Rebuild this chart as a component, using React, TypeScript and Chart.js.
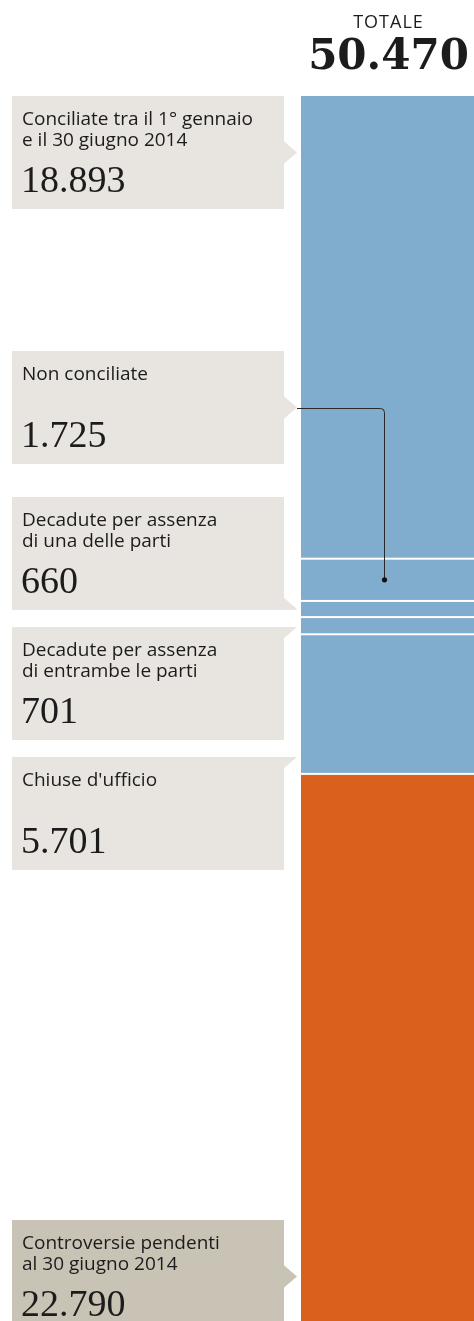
import React, { useEffect, useRef } from 'react';
import { Chart, registerables } from 'chart.js';

Chart.register(...registerables);

// ---------- data ----------
const totalTitle = 'TOTALE';
const categoryLines: string[][] = [
  ['Conciliate tra il 1° gennaio', 'e il 30 giugno 2014'],
  ['Non conciliate'],
  ['Decadute per assenza', 'di una delle parti'],
  ['Decadute per assenza', 'di entrambe le parti'],
  ["Chiuse d'ufficio"],
  ['Controversie pendenti', 'al 30 giugno 2014'],
];
const values = [18893, 1725, 660, 701, 5701, 22790];
const groupOf = ['closed', 'closed', 'closed', 'closed', 'closed', 'pending'];

// ---------- layout / style ----------
const W = 474;
const H = 1321;
const CANVAS_H = 1332;
const BAR_LEFT = 301;
const BAR_TOP = 96;
const BOX_LEFT = 12;
const BOX_RIGHT = 284;
const ARROW_TIP_X = 297;
const ARROW_HALF = 12;
const BOX_H = 113;
const BOX_TOPS = [96, 351, 497, 627, 757, 1220];
const ARROW_AT = ['mid', 'mid', 'bottom', 'top', 'top', 'mid'];
const CONNECTOR_FROM = 1;

const COLORS: Record<string, string> = { closed: '#80adcd', pending: '#d9601d' };
const BOX_BG: Record<string, string> = { closed: '#e8e5e0', pending: '#c9c3b5' };
const TEXT = '#1c1c1c';
const LABEL_FONT = '19px "Open Sans"';
const NUMBER_FONT = '38px "Liberation Serif"';

const fmt = (n: number) => String(n).replace(/\B(?=(\d{3})+(?!\d))/g, '.');
const total = values.reduce((a, b) => a + b, 0);

const infographic = {
  id: 'infographic',
  afterDatasetsDraw(chart: any) {
    const ctx = chart.ctx;
    ctx.save();
    ctx.fillStyle = '#ffffff';
    for (let i = 0; i < values.length - 1; i++) {
      const el: any = chart.getDatasetMeta(i).data[0];
      const yb = Math.max(el.y, el.base);
      ctx.fillRect(el.x - el.width / 2, yb - 1, el.width, 2);
    }
    ctx.restore();
  },
  afterDraw(chart: any) {
    const ctx = chart.ctx;
    const area = chart.chartArea;
    const cx = (area.left + area.right) / 2;
    ctx.save();

    // header
    ctx.fillStyle = TEXT;
    ctx.textAlign = 'center';
    ctx.textBaseline = 'alphabetic';
    ctx.font = '18px "Open Sans"';
    (ctx as any).letterSpacing = '1px';
    ctx.fillText(totalTitle, cx + 1, 28);
    (ctx as any).letterSpacing = '0px';
    ctx.font = 'bold 42px "DejaVu Serif"';
    ctx.fillText(fmt(total), cx + 1, 69);

    // boxes
    ctx.textAlign = 'left';
    categoryLines.forEach((lines, i) => {
      const top = BOX_TOPS[i];
      const bottom = i === categoryLines.length - 1 ? CANVAS_H + 10 : top + BOX_H;
      const mode = ARROW_AT[i];
      const tip = mode === 'top' ? top : mode === 'bottom' ? top + BOX_H - 1 : top + BOX_H / 2;
      ctx.fillStyle = BOX_BG[groupOf[i]];
      ctx.fillRect(BOX_LEFT, top, BOX_RIGHT - BOX_LEFT, bottom - top);
      ctx.save();
      ctx.beginPath();
      ctx.rect(BOX_RIGHT - 1, top, ARROW_TIP_X - BOX_RIGHT + 2, bottom - top);
      ctx.clip();
      ctx.beginPath();
      ctx.moveTo(BOX_RIGHT - 1, tip - ARROW_HALF);
      ctx.lineTo(ARROW_TIP_X, tip);
      ctx.lineTo(BOX_RIGHT - 1, tip + ARROW_HALF);
      ctx.closePath();
      ctx.fill();
      ctx.restore();

      ctx.fillStyle = TEXT;
      ctx.font = LABEL_FONT;
      lines.forEach((ln, k) => ctx.fillText(ln, 22, top + 29 + k * 21));
      ctx.font = NUMBER_FONT;
      ctx.fillText(fmt(values[i]), 21, top + 96);
    });

    // leader line from box to its segment
    const el: any = chart.getDatasetMeta(CONNECTOR_FROM).data[0];
    const segMid = (el.y + el.base) / 2;
    const y0 = Math.round(BOX_TOPS[CONNECTOR_FROM] + BOX_H / 2) + 0.5;
    const lx = Math.round(el.x - 4) + 0.5;
    ctx.strokeStyle = '#2a2a2a';
    ctx.lineWidth = 1;
    ctx.beginPath();
    ctx.moveTo(ARROW_TIP_X, y0);
    ctx.arcTo(lx, y0, lx, segMid, 4);
    ctx.lineTo(lx, segMid);
    ctx.stroke();
    ctx.fillStyle = '#111';
    ctx.beginPath();
    ctx.arc(lx, segMid, 2.6, 0, Math.PI * 2);
    ctx.fill();
    ctx.restore();
  },
};

export default function App() {
  const ref = useRef<HTMLCanvasElement>(null);
  useEffect(() => {
    document.body.style.margin = '0';
    const canvas = ref.current!;
    const chart = new Chart(canvas, {
      type: 'bar',
      data: {
        labels: [totalTitle],
        datasets: values.map((v, i) => ({
          label: categoryLines[i].join(' '),
          data: [v],
          backgroundColor: COLORS[groupOf[i]],
          borderWidth: 0,
          barPercentage: 1,
          categoryPercentage: 1,
        })),
      },
      options: {
        responsive: false,
        animation: false,
        devicePixelRatio: 1,
        layout: { padding: { left: BAR_LEFT, top: BAR_TOP, right: 0, bottom: 0 } },
        plugins: { legend: { display: false }, tooltip: { enabled: false } },
        scales: {
          x: { stacked: true, display: false },
          y: { stacked: true, display: false, reverse: true, min: 0, max: total },
        },
      },
      plugins: [infographic],
    });
    return () => chart.destroy();
  }, []);
  return (
    <div style={{ width: W, height: H, overflow: 'hidden', position: 'relative', background: '#fff' }}>
      <canvas ref={ref} width={W} height={CANVAS_H} style={{ display: 'block' }} />
    </div>
  );
}
